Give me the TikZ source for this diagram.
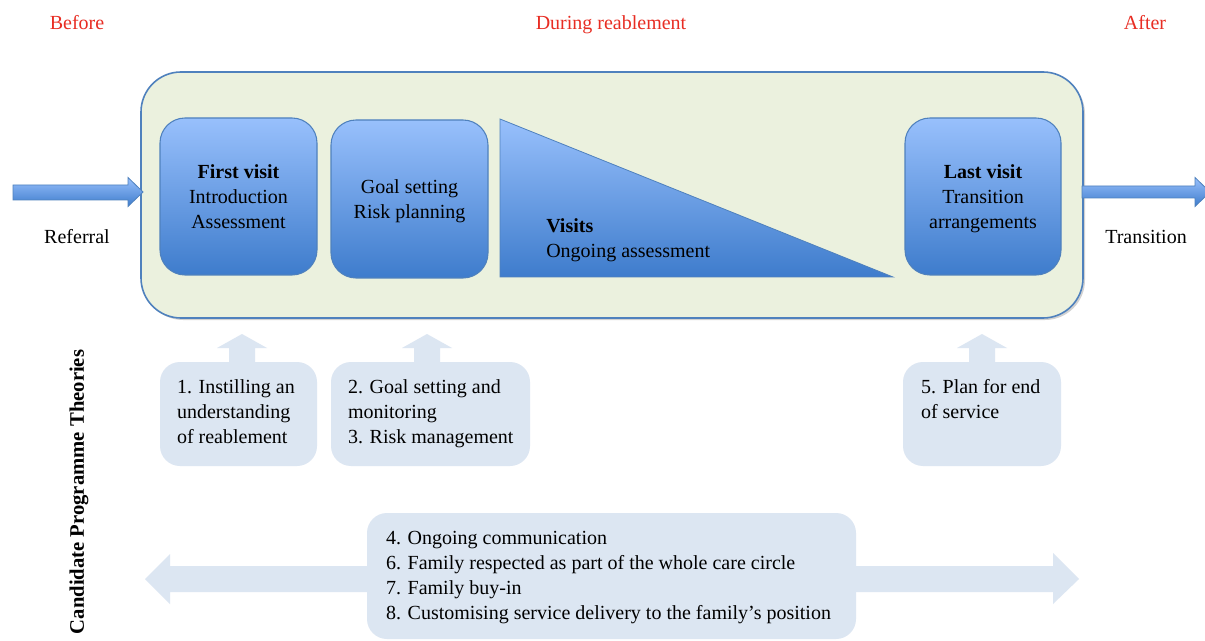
\documentclass[tikz,border=0pt]{standalone}
\usepackage{fontspec}
\setmainfont{Liberation Serif}
\usetikzlibrary{calc,shadows}
\definecolor{bigfill}{RGB}{235,241,222}
\definecolor{bordblue}{RGB}{79,129,189}
\definecolor{gradtop}{RGB}{152,192,252}
\definecolor{gradbot}{RGB}{62,124,204}
\definecolor{paleblue}{RGB}{220,230,242}
\definecolor{redlbl}{RGB}{232,45,35}
\tikzset{
  txt/.style={font=\fontsize{15}{18.75}\selectfont, inner sep=0pt, text=black},
  redtxt/.style={txt, text=redlbl, anchor=base},
  stage/.style={txt, draw=bordblue, line width=0.8pt, rounded corners=18.75pt,
    top color=gradtop, bottom color=gradbot, align=center},
  theory/.style={fill=paleblue, rounded corners=15pt, inner sep=0pt},
  theorytxt/.style={txt, align=left, anchor=north west},
  bluearrow/.style={top color=gradtop, bottom color=gradbot, draw=bordblue, line width=0.6pt},
}
\newcommand{\uparrowat}[1]{\fill[paleblue] (#1) ++(-13,1) -- ++(0,-15) -- ++(-12,0) -- ++(25,-14) -- ++(25,14) -- ++(-12,0) -- ++(0,15) -- cycle;}
\newcommand{\topstrut}{\rule{0pt}{16.125pt}}
\begin{document}
\begin{tikzpicture}[x=0.75pt,y=-0.75pt]
\clip (0,0) rectangle (1205,641);
\fill[white] (0,0) rectangle (1205,641);

% phase labels
\node[redtxt] (before) at (77,30) {Before};
\node[redtxt] (during) at (611,30) {During reablement};
\node[redtxt] (after) at (1145,30) {After};

% main container
\node[draw=bordblue, line width=1.2pt, fill=bigfill, rounded corners=30pt,
  minimum width=706.5pt, minimum height=184.5pt,
  drop shadow={opacity=0.35, shadow xshift=1.5pt, shadow yshift=-1.5pt}] (main) at (612,195) {};

% in / out arrows
\coordinate (inTail) at (13,192);
\coordinate (inTip) at (143,192);
\shade[bluearrow] ($(inTail)+(0,-7)$) -- ($(inTip)+(-15,-7)$) -- ($(inTip)+(-15,-14.5)$) -- (inTip)
  -- ($(inTip)+(-15,14.5)$) -- ($(inTip)+(-15,8)$) -- ($(inTail)+(0,8)$) -- cycle;
\coordinate (outTail) at (1082,192);
\coordinate (outTip) at (1210,192);
\shade[bluearrow] ($(outTail)+(0,-6)$) -- ($(outTip)+(-15,-6)$) -- ($(outTip)+(-15,-14.5)$) -- (outTip)
  -- ($(outTip)+(-15,14.5)$) -- ($(outTip)+(-15,6)$) -- ($(outTail)+(0,6)$) -- cycle;
\node[txt, anchor=base] (referral) at (77,244) {Referral};
\node[txt, anchor=base] (transition) at (1146,244) {Transition};

% stages
\node[stage, minimum width=117.75pt, minimum height=117.75pt] (first) at (238.5,196.5)
  {\topstrut\textbf{First visit}\\Introduction\\Assessment\strut};
\node[stage, minimum width=117.75pt, minimum height=118.5pt] (goal) at (409.5,199)
  {\topstrut Goal setting\\Risk planning\strut};
\shade[bluearrow] (500,119) coordinate (triA) -- (500,277) coordinate (triB) -- (893,277) coordinate (triC) -- cycle;
\node[theorytxt] (visits) at (546,214.5) {\strut\textbf{Visits}\\Ongoing assessment};
\node[stage, minimum width=117pt, minimum height=117.75pt] (last) at (983,196.5)
  {\topstrut\textbf{Last visit}\\Transition\\arrangements\strut};

% candidate theories
\node[theory, minimum width=117.75pt, minimum height=78pt] (tA) at (238.5,414) {};
\node[theory, minimum width=149.25pt, minimum height=78pt] (tB) at (430.5,414) {};
\node[theory, minimum width=118.5pt, minimum height=78pt] (tC) at (982,414) {};
\coordinate (aA) at (242,362);
\coordinate (aB) at (427,362);
\coordinate (aC) at (982,362);
\uparrowat{aA}
\uparrowat{aB}
\uparrowat{aC}
\node[theorytxt] (tAt) at ($(tA.north west)+(17,13.5)$) {\strut 1. Instilling an\\understanding\\of reablement};
\node[theorytxt] (tBt) at ($(tB.north west)+(17,13.5)$) {\strut 2. Goal setting and\\monitoring\\3. Risk management};
\node[theorytxt] (tCt) at ($(tC.north west)+(18,13.5)$) {\strut 5. Plan for end\\of service};

% bottom double arrow
\coordinate (dl) at (145,579);
\coordinate (dr) at (1079,579);
\fill[paleblue] (dl) -- ($(dl)+(25,-25)$) -- ($(dl)+(25,-13)$) -- ($(dr)+(-26,-13)$) -- ($(dr)+(-26,-26)$)
  -- (dr) -- ($(dr)+(-26,25)$) -- ($(dr)+(-26,13)$) -- ($(dl)+(25,13)$) -- ($(dl)+(25,25)$) -- cycle;
\node[theory, minimum width=366.75pt, minimum height=94.5pt] (tD) at (611.5,576) {};
\node[theorytxt] (tDt) at ($(tD.north west)+(19,13.5)$)
  {\strut 4. Ongoing communication\\6. Family respected as part of the whole care circle\\7. Family buy-in\\8. Customising service delivery to the family’s position};

\node[txt, font=\fontsize{15.5}{18.75}\selectfont\bfseries, rotate=90] (cpt) at (79,492) {Candidate Programme Theories};
\end{tikzpicture}
\end{document}
